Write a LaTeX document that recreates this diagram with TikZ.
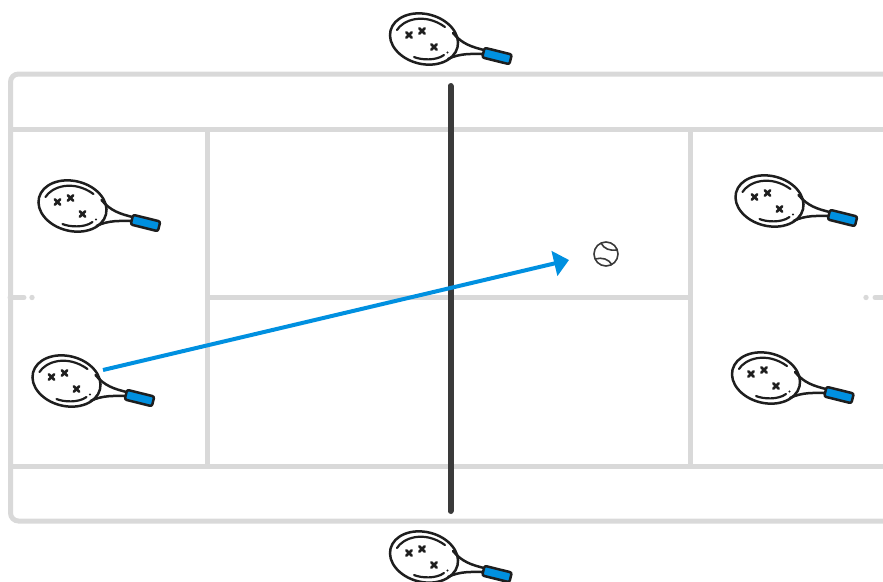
\documentclass[tikz,border=0pt]{standalone}
\usetikzlibrary{arrows.meta}
\definecolor{courtgrey}{HTML}{D9D9D9}
\definecolor{netgrey}{HTML}{3A3A3A}
\definecolor{inkblack}{HTML}{1E1E1E}
\definecolor{shotblue}{HTML}{0090E0}
\tikzset{
  courtline/.style={draw=courtgrey,line width=5pt},
  cross/.pic={\draw[inkblack,line width=2.8pt] (-2.6,-2.6)--(2.6,2.6) (-2.6,2.6)--(2.6,-2.6);},
  racket/.pic={
    \begin{scope}[inkblack,line width=2.5pt,line cap=round,line join=round]
      \draw[rotate=-14] (0,0) ellipse [x radius=34.5,y radius=25];
      \draw[line width=2.2pt] (-27,-9) .. controls (-21,-19) and (0,-27) .. (21,-12);
      \draw[line width=2.2pt] (-10,18) .. controls (-3,21) and (12,22) .. (20,16);
      \fill (23.5,13.5) circle (1.1);
      \path (-15,-4) pic {cross} (-2,-8) pic {cross} (10,8) pic {cross};
      \draw (29,-6) .. controls (38,5) and (48,8) .. (60,11);
      \draw (24,20) .. controls (36,14) and (48,15) .. (59,15);
      \draw[fill=shotblue,rotate around={-14:(73,17)},rounded corners=2pt]
        (59,12) rectangle (87,22);
    \end{scope}
  }
}
\begin{document}
\begin{tikzpicture}[x=1pt,y=-1pt]
\useasboundingbox (0,0) rectangle (883,581);
\clip (0,0) rectangle (883,581);
% court
\draw[courtline,rounded corners=8pt] (890,74) -- (10.5,74) -- (10.5,521) -- (890,521);
\draw[courtline] (8,129) -- (890,129);
\draw[courtline] (8,466) -- (890,466);
\draw[courtline] (207,129) -- (207,466);
\draw[courtline] (690.5,129) -- (690.5,466);
\draw[courtline] (207,297.5) -- (690.5,297.5);
\draw[courtline,line cap=round] (10,297.5) -- (24,297.5);
\fill[courtgrey] (32,297.5) circle (2.7);
\draw[courtline,line cap=round] (890,297.5) -- (875,297.5);
\fill[courtgrey] (866,297.5) circle (2.7);
% net
\coordinate (nettop) at (450.5,86);
\coordinate (netbottom) at (450.5,511);
\draw[netgrey,line width=6pt,line cap=round] (nettop) -- (netbottom);
% rackets
\path (424,39) pic {racket};
\path (424,557) pic {racket};
\path (72.5,206) pic {racket};
\path (769.5,201) pic {racket};
\path (66.5,381) pic {racket};
\path (766,378) pic {racket};
% shot
\coordinate (shotstart) at (103,370);
\coordinate (shotend) at (569,260);
\draw[shotblue,line width=4pt,-{Triangle[length=15pt,width=25pt]}] (shotstart) -- (shotend);
% ball
\begin{scope}[shift={(606,254)},netgrey,line width=1.6pt]
  \draw (0,0) circle (12);
  \draw (-5,-11) .. controls (-2,-5) and (4,-3) .. (11,-4);
  \draw (-11,5) .. controls (-4,3) and (3,5) .. (6,11);
\end{scope}
\end{tikzpicture}
\end{document}
